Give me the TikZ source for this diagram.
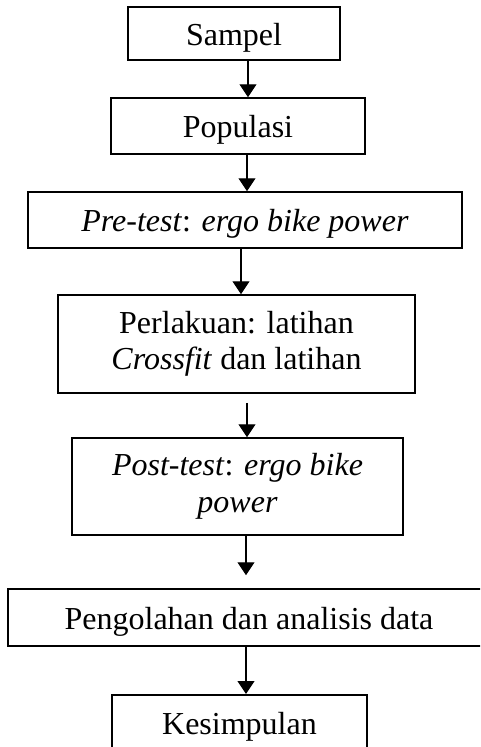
\documentclass[tikz,border=0pt]{standalone}
\usepackage{fontspec}
\setmainfont{Liberation Serif}
\usetikzlibrary{arrows.meta}
\tikzset{
  box/.style={draw, line width=1.5pt, inner sep=0pt, align=center,
    font=\fontsize{32}{36.5}\selectfont},
  oneline/.style={text height=23pt, text depth=0pt},
  flow/.style={line width=1.2pt, -{Triangle[length=13pt,width=17pt]}}
}
\begin{document}
\begin{tikzpicture}[x=1pt,y=-1pt]
\clip (0,0) rectangle (480,747);
\fill[white] (0,0) rectangle (480,747);
\node[box, oneline, minimum width=212pt, minimum height=53pt] (sampel) at (234,33.5) {Sampel};
\node[box, oneline, minimum width=254pt, minimum height=56pt] (populasi) at (238,126) {Populasi};
\node[box, oneline, minimum width=434pt, minimum height=56pt] (pretest) at (245,220) {\textit{Pre-test}: \textit{ergo bike power}};
\node[box, minimum width=357pt, minimum height=98pt] (perlakuan) at (236.5,344) {Perlakuan: latihan\\\textit{Crossfit} dan latihan};
\node[box, minimum width=331pt, minimum height=97pt] (posttest) at (237.5,486.5) {\textit{Post-test}: \textit{ergo bike}\\\textit{power}};
\node[box, oneline, minimum width=482pt, minimum height=57pt] (olah) at (249,617.5) {Pengolahan dan analisis data};
\node[box, oneline, minimum width=255pt, minimum height=56pt, anchor=north] (kesimpulan) at (239.5,694) {Kesimpulan};
\draw[flow] ([xshift=14pt]sampel.south) -- ([xshift=10pt]populasi.north);
\draw[flow] ([xshift=9pt]populasi.south) -- ([xshift=2pt]pretest.north);
\draw[flow] ([xshift=-4pt]pretest.south) -- ([xshift=4.5pt]perlakuan.north);
\draw[flow] ([xshift=10.5pt,yshift=-9pt]perlakuan.south) -- ([xshift=9.5pt]posttest.north);
\draw[flow] ([xshift=8.5pt]posttest.south) -- ([xshift=-3pt,yshift=13pt]olah.north);
\draw[flow] ([xshift=-3pt]olah.south) -- ([xshift=6.5pt]kesimpulan.north);
\end{tikzpicture}
\end{document}
